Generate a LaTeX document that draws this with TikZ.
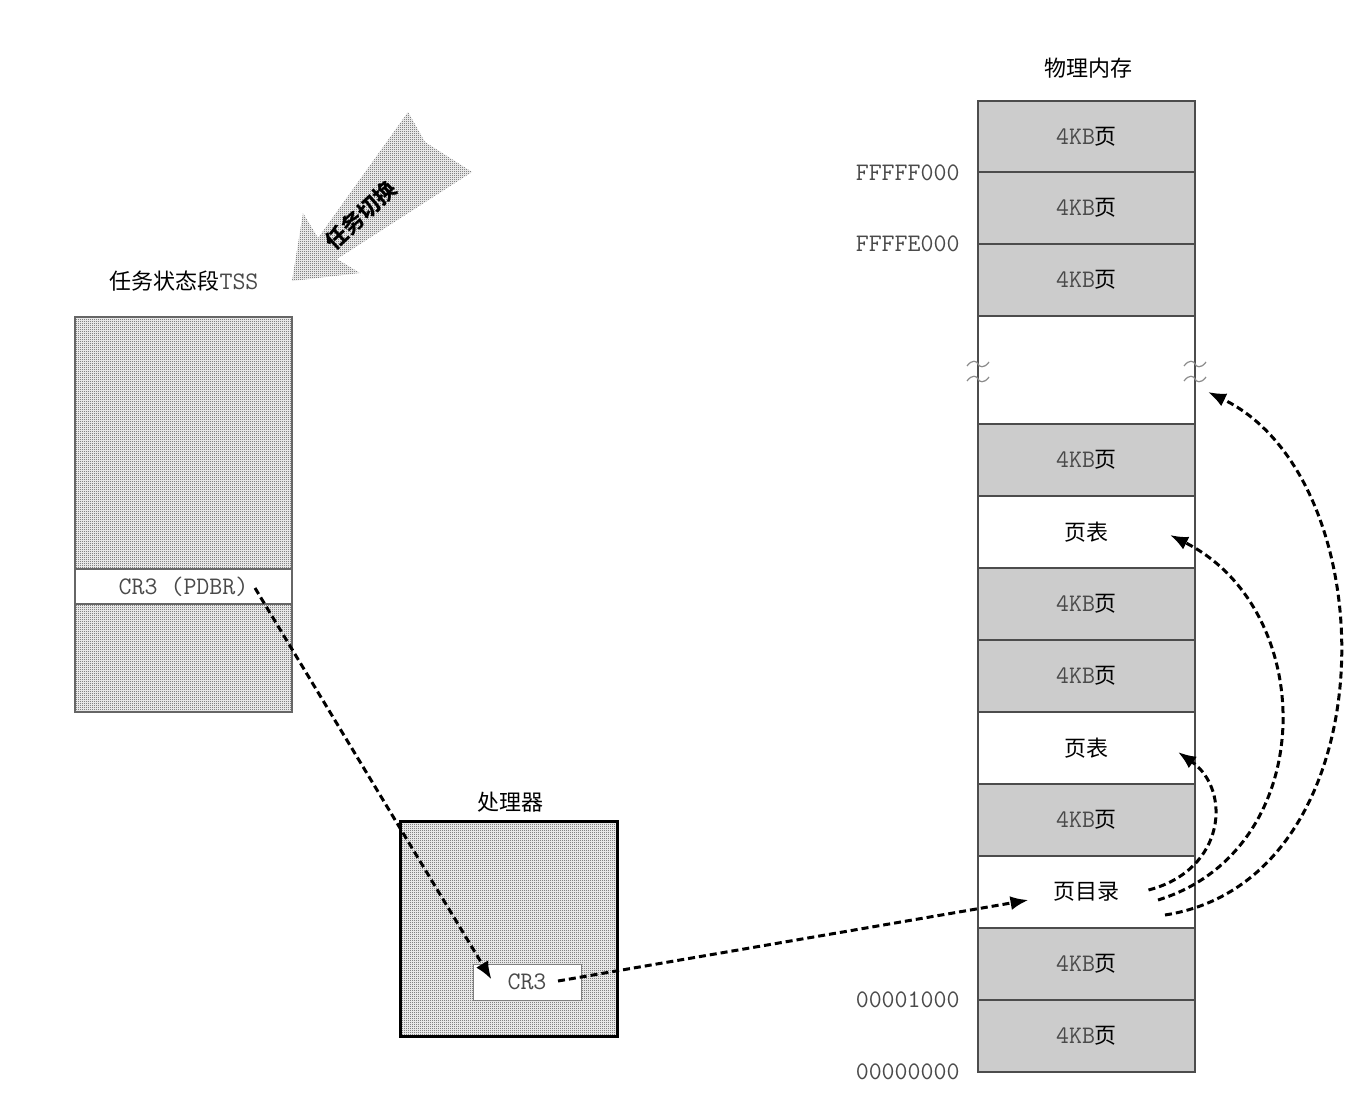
\documentclass[tikz,border=0pt]{standalone}
\usepackage{fontspec}
\setmainfont{Noto Sans CJK SC}
\usepackage{tikz}
\usetikzlibrary{arrows.meta,positioning,calc,patterns}
\definecolor{monogray}{HTML}{4A4A4A}
\pgfdeclarepatternformonly{finechecker}{\pgfpointorigin}{\pgfqpoint{1pt}{1pt}}{\pgfqpoint{1pt}{1pt}}{%
  \pgfpathrectangle{\pgfpointorigin}{\pgfqpoint{0.5pt}{0.5pt}}%
  \pgfpathrectangle{\pgfqpoint{0.5pt}{0.5pt}}{\pgfqpoint{0.5pt}{0.5pt}}%
  \pgfusepath{fill}}
\newcommand{\mono}[1]{{\fontsize{12.6}{13}\selectfont\ttfamily\color{monogray}#1}}

\begin{document}
\begin{tikzpicture}[x=0.5pt, y=-0.5pt,
  every node/.style={font=\fontsize{11}{13}\selectfont},
  hatched/.style={pattern=finechecker, pattern color=black!75},
  memrow/.style={draw=black!70, line width=0.75pt, minimum width=108.5pt,
    minimum height=36pt, inner sep=0pt, outer sep=0pt},
  pagebox/.style={memrow, fill=black!20},
  ptbox/.style={memrow, fill=white},
  tssrow/.style={draw=black!60, line width=0.6pt, minimum width=108.5pt,
    inner sep=0pt, outer sep=0pt},
  addr/.style={anchor=east, inner sep=0pt, xshift=-9pt},
  link/.style={-{Latex[length=9pt,width=7pt]}, line width=1.5pt,
    dash pattern=on 3.5pt off 2pt}]
\useasboundingbox (0,0) rectangle (1369,1092);
\fill[white] (0,0) rectangle (1369,1092);

% task switch
\fill[hatched] (292,281) -- (303,213) -- (318,238) -- (408,112) -- (425,142)
  -- (472,172) -- (337,259) -- (360,273) -- cycle;
\node[rotate=43, inner sep=0pt, font=\bfseries\fontsize{11}{12}\selectfont] (switch) at (361,215) {任务切换};

% TSS
\node (tsslabel) at (184,281) {任务状态段\mono{TSS}};
\node[tssrow, hatched, minimum height=126pt] (tsstop) at (183.5,443) {};
\node[tssrow, fill=white, minimum height=17.5pt, below=0pt of tsstop] (tsscr3) {\mono{CR3 (PDBR)}};
\node[tssrow, hatched, minimum height=54pt, below=0pt of tsscr3] (tssbot) {};

% processor
\node (cpulabel) at (510,802) {处理器};
\node[draw=black, line width=1.5pt, hatched, minimum width=108.5pt,
  minimum height=107.5pt, inner sep=0pt] (cpu) at (508.5,928.5) {};
\node[draw=black!50, fill=white, line width=0.5pt, minimum width=54pt,
  minimum height=18pt, inner sep=0pt] (cpucr3) at (527,982) {\mono{CR3}};

% physical memory
\node (memlabel) at (1088,68) {物理内存};
\foreach \n/\top in {1/101,2/172,3/244,4/424,6/568,7/640,9/784,11/928,12/1000}
  \node[pagebox] (m\n) at (1086.5,\top+36) {\mono{4KB}页};
\node[ptbox] (ptupper) at (1086.5,532) {页表};
\node[ptbox] (ptlower) at (1086.5,748) {页表};
\node[ptbox] (pdir) at (1086.5,892) {页目录};
\draw[black!70, line width=0.75pt] (m3.south west) -- (m4.north west);
\draw[black!70, line width=0.75pt] (m3.south east) -- (m4.north east);
\foreach \sx in {978,1195}
  \foreach \sy in {364,379}
    \draw[black!45, line width=0.6pt] (\sx-11,\sy+2) .. controls (\sx-6,\sy-5) and (\sx-1,\sy-3) .. (\sx,\sy)
      .. controls (\sx+1,\sy+3) and (\sx+6,\sy+5) .. (\sx+11,\sy-2);

\node[addr] (aF1) at (m1.south west) {\mono{FFFFF000}};
\node[addr] (aF2) at (m2.south west) {\mono{FFFFE000}};
\node[addr] (a01) at (m11.south west) {\mono{00001000}};
\node[addr] (a00) at (m12.south west) {\mono{00000000}};

% links
\draw[link] ([shift={(71.5,1.5)}]tsscr3.center) -- ([shift={(19,16)}]cpucr3.north west);
\draw[link] ([shift={(31,-1)}]cpucr3.center) -- ([shift={(-58,8)}]pdir.center);
\draw[link] ([shift={(62,-2)}]pdir.center) .. controls +(77,-20) and +(54,38)
  .. ([shift={(91.5,4)}]ptlower.center);
\draw[link] ([shift={(71.5,8)}]pdir.center) .. controls +(162,-50) and +(150,75)
  .. ([shift={(83.5,3)}]ptupper.center);
\draw[link] ([shift={(78.5,23)}]pdir.center) .. controls +(225,-35) and +(182,88)
  .. ([shift={(13,76)}]m3.south east);
\end{tikzpicture}
\end{document}
